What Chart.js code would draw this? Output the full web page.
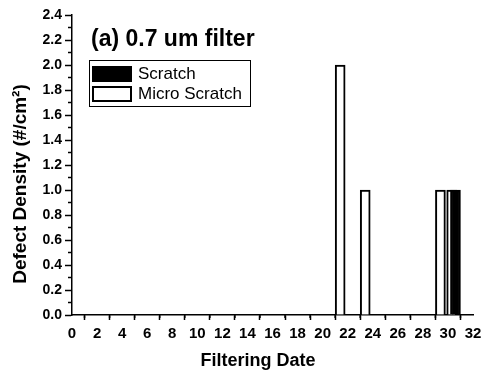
<!DOCTYPE html>
<html>
<head>
<meta charset="utf-8">
<script src="https://cdn.jsdelivr.net/npm/chart.js@4/dist/chart.umd.min.js"></script>
<style>
  html, body { margin: 0; padding: 0; background: #fff; }
  #wrap { width: 490px; height: 376px; position: relative; }
</style>
</head>
<body>
<div id="wrap"><canvas id="chartCanvas"></canvas></div>
<script>
// values
const microDates = [21.4, 23.4, 29.4, 30.3];
const microValues = [2.0, 1.0, 1.0, 1.0];
const scratchDates = [30.6];
const scratchValues = [1.0];

const xTitle = "Filtering Date";
const yTitle = "Defect Density (#/cm\u00B2)";
const panelTitle = "(a) 0.7 um filter";

const FONT = "'Liberation Sans', Arial, sans-serif";

function toPoints(xs, ys) {
  return xs.map((x, i) => ({ x: x, y: ys[i] }));
}

// minor tick marks between the labelled ones
const minorTicks = {
  id: "minorTicks",
  afterDraw(chart) {
    const c = chart.ctx;
    const xs = chart.scales.x, ys = chart.scales.y;
    c.save();
    c.strokeStyle = "#000";
    c.lineWidth = 1.5;
    c.beginPath();
    for (let v = 1; v < 32; v += 2) {
      const px = xs.getPixelForValue(v);
      c.moveTo(px, ys.bottom);
      c.lineTo(px, ys.bottom + 3);
    }
    for (let v = 0.1; v < 2.4; v += 0.2) {
      const py = ys.getPixelForValue(v);
      c.moveTo(xs.left, py);
      c.lineTo(xs.left - 4, py);
    }
    c.stroke();
    c.restore();
  },
};

// axis titles, panel title and the boxed legend
const panelLegend = {
  id: "panelLegend",
  afterDraw(chart) {
    const c = chart.ctx;
    c.save();
    c.fillStyle = "#000";

    c.font = "bold 18px " + FONT;
    c.textAlign = "center";
    c.textBaseline = "middle";
    c.fillText(xTitle, 258, 361);
    c.save();
    c.translate(21, 184);
    c.rotate(-Math.PI / 2);
    c.font = "bold 19px " + FONT;
    c.fillText(yTitle, 0, 0);
    c.restore();

    c.textAlign = "left";
    c.font = "bold 23px " + FONT;
    c.textBaseline = "alphabetic";
    c.fillText(panelTitle, 91, 46);

    c.strokeStyle = "#000";
    c.lineWidth = 1;
    c.strokeRect(89.5, 60.5, 161, 46);

    const items = [chart.data.datasets[0], chart.data.datasets[1]];
    items.forEach((ds, i) => {
      const y = 66 + i * 20;
      c.fillStyle = ds.backgroundColor;
      c.fillRect(92, y, 40, 16);
      c.lineWidth = 2;
      c.strokeStyle = ds.borderColor;
      c.strokeRect(93, y + 1, 38, 14);
      c.fillStyle = "#000";
      c.font = "17px " + FONT;
      c.textBaseline = "middle";
      c.fillText(ds.label, 138, y + 8);
    });
    c.restore();
  },
};

const ctxChart = document.getElementById("chartCanvas").getContext("2d");

const chart = new Chart(ctxChart, {
  type: "bar",
  data: {
    datasets: [
      {
        label: "Scratch",
        data: toPoints(scratchDates, scratchValues),
        backgroundColor: "#000",
        borderColor: "#000",
        borderWidth: 2,
        barThickness: 10,
        order: 0,
      },
      {
        label: "Micro Scratch",
        data: toPoints(microDates, microValues),
        backgroundColor: "#fff",
        borderColor: "#000",
        borderWidth: 2,
        barThickness: 10,
        order: 1,
      },
    ],
  },
  options: {
    responsive: true,
    maintainAspectRatio: false,
    animation: false,
    grouped: false,
    layout: { padding: { left: 0, right: 17, top: 15, bottom: 0 } },
    plugins: {
      legend: { display: false },
      tooltip: { enabled: false },
    },
    scales: {
      x: {
        type: "linear",
        min: 0,
        max: 32,
        offset: false,
        afterFit: (s) => { s.height = 61; },
        ticks: {
          stepSize: 2,
          color: "#000",
          padding: 5,
          maxRotation: 0,
          autoSkip: false,
          font: { family: FONT, size: 15, weight: "bold" },
        },
        grid: {
          display: true,
          drawOnChartArea: false,
          drawTicks: true,
          tickLength: 5,
          tickWidth: 1.5,
          tickColor: "#000",
        },
        border: { display: true, color: "#000", width: 1.5 },
      },
      y: {
        min: 0,
        max: 2.4,
        afterFit: (s) => { s.width = 72; },
        ticks: {
          stepSize: 0.2,
          color: "#000",
          padding: 3,
          font: { family: FONT, size: 14, weight: "bold" },
          callback: (v) => v.toFixed(1),
        },
        grid: {
          display: true,
          drawOnChartArea: false,
          drawTicks: true,
          tickLength: 7,
          tickWidth: 1.5,
          tickColor: "#000",
        },
        border: { display: true, color: "#000", width: 1.5 },
      },
    },
  },
  plugins: [minorTicks, panelLegend],
});
</script>
</body>
</html>
